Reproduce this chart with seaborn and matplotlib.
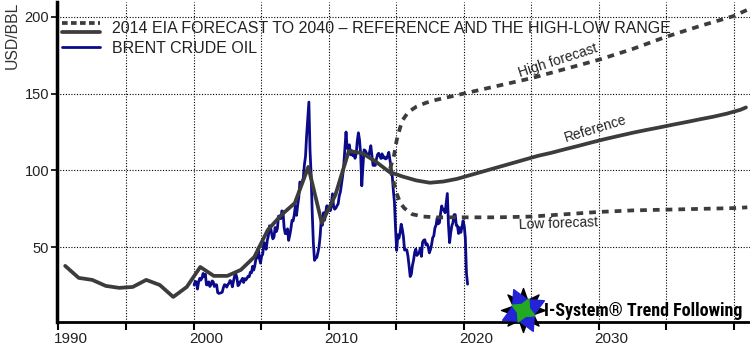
import numpy as np
import pandas as pd
import matplotlib
matplotlib.use("Agg")
import matplotlib.pyplot as plt
import matplotlib.transforms as mtransforms
from matplotlib.legend_handler import HandlerBase
from matplotlib.lines import Line2D
import seaborn as sns

# ---------------- data ----------------
# EIA reference path (history + forecast), annual mid-year points
ref_years = [1990.5, 1991.5, 1992.5, 1993.5, 1994.5, 1995.5, 1996.5, 1997.5, 1998.5, 1999.5,
             2000.5, 2001.5, 2002.5, 2003.5, 2004.5, 2005.5, 2006.5, 2007.5, 2008.5, 2009.5,
             2010.5, 2011.5, 2012.5, 2013.5, 2014.5, 2015.5, 2016.5, 2017.5, 2018.5, 2019.5,
             2020.5, 2021.5, 2022.5, 2023.5, 2024.5, 2025.5, 2026.5, 2027.5, 2028.5, 2029.5,
             2030.5, 2031.5, 2032.5, 2033.5, 2034.5, 2035.5, 2036.5, 2037.5, 2038.5, 2039.5,
             2040.5, 2040.9]
ref_values = [37.9, 30.1, 28.8, 24.9, 23.6, 24.2, 28.8, 25.5, 17.7, 24.2,
              37.2, 31.4, 31.4, 35.3, 43.7, 61.3, 71.0, 78.8, 102.3, 65.8,
              84.0, 112.7, 111.2, 105.7, 99.0, 96.0, 93.5, 92.0, 92.8, 94.5,
              97.0, 99.5, 102.0, 104.5, 107.0, 109.5, 111.5, 113.8, 116.0, 118.3,
              120.5, 122.5, 124.5, 126.3, 128.0, 129.8, 131.5, 133.3, 135.0, 137.0,
              139.5, 141.0]

high_years = [2014.55, 2014.85, 2015.05, 2015.3, 2015.5, 2015.9, 2016.5, 2017.2, 2018.0, 2019.0,
              2020.0, 2022.5, 2025.0, 2027.5, 2030.0, 2032.5, 2035.0, 2037.5, 2040.0, 2041.0]
high_values = [101.0, 110.0, 120.0, 128.0, 133.0, 138.0, 141.5, 144.0, 146.0, 148.0,
               150.0, 155.0, 160.0, 166.0, 172.0, 179.0, 187.0, 194.0, 200.5, 204.5]

low_years = [2014.55, 2014.8, 2015.0, 2015.3, 2015.6, 2016.2, 2017.0, 2018.0, 2020.0, 2022.5,
             2025.0, 2027.5, 2030.0, 2032.5, 2035.0, 2037.5, 2040.0, 2041.0]
low_values = [101.0, 93.0, 86.0, 79.0, 75.5, 71.5, 70.0, 69.5, 69.5, 69.5,
              70.0, 71.5, 73.0, 74.0, 74.5, 75.0, 75.5, 76.0]

# Brent crude, monthly, Jan 2000 - Apr 2020 (USD/bbl)
brent_start = 2000
brent_values = [
    25.5, 27.8, 27.5, 22.8, 27.3, 29.8, 28.7, 30.0, 33.0, 30.9, 32.5, 25.6,
    25.6, 27.5, 24.5, 25.7, 28.1, 27.6, 24.5, 25.6, 25.6, 20.5, 20.0, 20.2,
    20.4, 20.8, 23.7, 25.7, 25.4, 24.1, 25.7, 26.6, 28.4, 27.5, 24.3, 28.0,
    31.2, 32.8, 30.3, 25.0, 25.8, 27.6, 28.4, 29.8, 27.1, 29.6, 28.8, 29.8,
    31.2, 30.9, 33.8, 33.4, 37.6, 35.2, 38.2, 42.7, 43.2, 49.8, 43.1, 39.7,
    44.3, 45.5, 53.1, 51.9, 48.7, 54.3, 57.5, 64.0, 62.9, 58.5, 55.5, 56.7,
    62.9, 60.2, 62.1, 70.3, 69.8, 68.6, 73.7, 73.2, 62.8, 58.9, 59.1, 62.0,
    54.5, 57.8, 62.1, 67.5, 67.2, 71.1, 77.0, 70.8, 77.2, 82.4, 92.5, 91.5,
    92.0, 95.0, 103.6, 109.1, 122.8, 133.5, 144.5, 113.2, 97.2, 71.6, 52.5, 41.5,
    43.0, 43.3, 46.5, 50.2, 57.3, 68.6, 64.4, 72.5, 67.7, 73.2, 77.0, 74.7,
    76.2, 73.8, 78.8, 84.8, 75.9, 74.8, 75.6, 77.1, 78.2, 83.5, 86.1, 91.5,
    96.5, 103.7, 114.6, 125.0, 114.5, 113.9, 116.7, 110.2, 112.8, 109.6, 110.8, 107.9,
    110.7, 119.3, 124.5, 119.8, 110.3, 90.0, 102.6, 113.4, 113.0, 111.5, 109.5, 109.2,
    112.3, 116.1, 109.5, 103.3, 103.3, 103.3, 107.4, 110.3, 111.2, 109.5, 107.8, 110.8,
    108.1, 108.9, 107.5, 107.8, 109.5, 111.8, 106.8, 101.6, 97.1, 87.4, 79.4, 62.3,
    48.0, 58.1, 55.9, 59.5, 65.0, 61.7, 56.8, 48.2, 48.5, 48.3, 44.3, 38.0,
    31.0, 32.5, 38.2, 41.6, 46.7, 48.8, 44.7, 45.7, 46.6, 49.5, 44.1, 53.3,
    54.6, 54.9, 51.6, 52.3, 50.3, 46.4, 48.5, 51.7, 56.2, 57.5, 62.7, 64.4,
    69.1, 65.3, 66.0, 72.1, 76.9, 74.4, 74.3, 72.5, 78.9, 85.0, 64.8, 53.0,
    59.4, 64.0, 66.1, 71.2, 71.3, 64.2, 63.9, 59.0, 62.8, 59.7, 63.2, 67.3,
    64.0, 56.0, 33.0, 26.0,
]

legend_labels = ["2014 EIA FORECAST TO 2040 \u2013 REFERENCE AND THE HIGH-LOW RANGE",
                 "BRENT CRUDE OIL"]
x_ticks = [1990, 1995, 2000, 2005, 2010, 2015, 2020, 2025, 2030, 2035, 2040]
x_tick_labels = ["1990", "", "2000", "", "2010", "", "2020", "", "2030", "", ""]
y_ticks = [50, 100, 150, 200]
annotations = [("High forecast", 2027.0, 171.5, 18),
               ("Reference", 2029.8, 127.0, 17),
               ("Low forecast", 2027.0, 65.5, 2)]
logo_text = "I-System\u00ae Trend Following"

# ---------------- tables ----------------
brent_x = brent_start + (np.arange(len(brent_values)) + 0.5) / 12.0
df_brent = pd.DataFrame({"year": brent_x, "price": brent_values})
df_ref = pd.DataFrame({"year": ref_years, "price": ref_values})
df_high = pd.DataFrame({"year": high_years, "price": high_values})
df_low = pd.DataFrame({"year": low_years, "price": low_values})

# ---------------- style ----------------
sns.set_theme(style="white")
plt.rcParams["font.family"] = ["Liberation Sans", "DejaVu Sans"]

GREY = "#3c3c3c"
NAVY = "#0b0b8a"
DASH = (0, (1.8, 1.6))

fig = plt.figure(figsize=(7.5, 3.48), dpi=100)
ax = fig.add_axes([57.5 / 750, 26 / 348, (750 - 57.5) / 750, 320 / 348])

sns.lineplot(data=df_brent, x="year", y="price", ax=ax, color=NAVY, lw=2.0,
             estimator=None, sort=False, zorder=3)
sns.lineplot(data=df_ref, x="year", y="price", ax=ax, color=GREY, lw=2.7,
             estimator=None, sort=False, zorder=4)
sns.lineplot(data=df_high, x="year", y="price", ax=ax, color=GREY, lw=2.7,
             linestyle=DASH, estimator=None, sort=False, zorder=4)
sns.lineplot(data=df_low, x="year", y="price", ax=ax, color=GREY, lw=2.7,
             linestyle=DASH, estimator=None, sort=False, zorder=4)

ax.set_xlim(1989.93, 2041.2)
ax.set_ylim(1.4, 209.6)
ax.set_xlabel("")
ax.set_ylabel("")

ax.set_xticks(x_ticks)
ax.set_xticklabels(x_tick_labels)
ax.set_yticks(y_ticks)
ax.set_yticklabels([str(v) for v in y_ticks])
ax.tick_params(axis="x", direction="out", length=6, width=1.5, color="black",
               labelsize=11, labelcolor="#222222", pad=1.5, bottom=True)
ax.tick_params(axis="y", direction="out", length=4, width=1.2, color="black",
               labelsize=10.5, labelcolor="#222222", pad=2, left=True)
offset = mtransforms.ScaledTranslation(-4.5 / 100, 0, fig.dpi_scale_trans)
for lbl in ax.get_xticklabels():
    lbl.set_horizontalalignment("left")
    lbl.set_transform(lbl.get_transform() + offset)

ax.grid(True, color="black", linestyle=(0, (1, 1.5)), linewidth=0.8)
ax.set_axisbelow(True)
for s in ["top", "right"]:
    ax.spines[s].set_visible(False)
ax.spines["left"].set_color("black")
ax.spines["left"].set_linewidth(2.5)
ax.spines["bottom"].set_color("black")
ax.spines["bottom"].set_linewidth(2.0)

for txt, xx, yy, rot in annotations:
    ax.text(xx, yy, txt, rotation=rot, rotation_mode="anchor", ha="center", va="center",
            fontsize=10, color="#222222", zorder=5)

fig.text(12 / 750, 1 - 2 / 348, "USD/BBL", rotation=90, ha="center", va="top",
         fontsize=11.3, color="#333333")


# ---------------- legend ----------------
class TwoLineHandler(HandlerBase):
    def create_artists(self, legend, orig_handle, xdescent, ydescent, width, height,
                       fontsize, trans):
        x0, x1 = -xdescent, -xdescent + width
        yd = -ydescent + height * 0.9
        ys = -ydescent + height * 0.1
        l1 = Line2D([x0, x1], [yd, yd], color=GREY, lw=2.7, linestyle=(0, (1.5, 0.9)))
        l2 = Line2D([x0, x1], [ys, ys], color=GREY, lw=2.7)
        l1.set_transform(trans)
        l2.set_transform(trans)
        return [l1, l2]


h_fore = (Line2D([], [], color=GREY, lw=2.7, linestyle=DASH), Line2D([], [], color=GREY, lw=2.7))
h_brent = Line2D([], [], color=NAVY, lw=2.0)
leg = ax.legend([h_fore, h_brent], legend_labels, handler_map={tuple: TwoLineHandler()},
                loc="upper left", bbox_to_anchor=(62 / 750, 1 - 21 / 348),
                bbox_transform=fig.transFigure, frameon=False, fontsize=11.5,
                handlelength=2.4, handletextpad=0.7, labelspacing=0.3,
                borderpad=0, borderaxespad=0)
for t in leg.get_texts():
    t.set_color("#222222")

# ---------------- logo ----------------
lax = fig.add_axes([500 / 750, 15 / 348, 46 / 750, 46 / 348])
lax.set_xlim(-1, 1)
lax.set_ylim(-1, 1)
lax.axis("off")
lax.scatter([0], [0.0], marker=(8, 1, 0), s=1000, color="black", zorder=1)
lax.scatter([0], [0.0], marker=(4, 1, 25), s=1100, color="#2323d8", zorder=2)
lax.scatter([0], [0.0], marker=(4, 1, 65), s=330, color="#22aa22", zorder=3)
fig.text(544 / 750, 1 - 311 / 348, logo_text, ha="left", va="center",
         fontsize=13, fontweight="black", color="black",
         family=["Roboto Condensed", "Roboto", "DejaVu Sans"], fontstretch="condensed")

fig.savefig("out.png", dpi=100)
